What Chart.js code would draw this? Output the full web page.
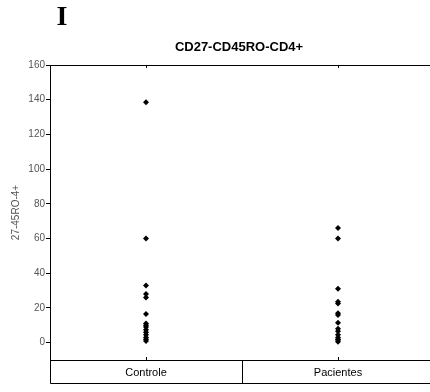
<!DOCTYPE html>
<html>
<head>
<meta charset="utf-8">
<script src="https://cdn.jsdelivr.net/npm/chart.js@4"></script>
<style>
html,body{margin:0;padding:0;background:#fff;overflow:hidden;width:430px;height:392px;}
canvas{display:block;}
</style>
</head>
<body>
<canvas id="c" width="440" height="392"></canvas>
<script>
const categories = ['Controle', 'Pacientes'];
const controleValues = [138.5, 60, 33, 28, 26, 16.5, 11, 10, 9, 7.5, 6, 4.5, 3, 2, 1];
const pacientesValues = [66, 60, 31, 23.5, 22.5, 17, 16, 11.5, 8, 6.5, 4.5, 3, 2, 1.5, 0.5];
const yTicks = [0, 20, 40, 60, 80, 100, 120, 140, 160];
const chartTitle = 'CD27-CD45RO-CD4+';
const panelLetter = 'I';
const yAxisLabel = '27-45RO-4+';

const boxPlugin = {
  id: 'boxPlugin',
  afterDraw(chart) {
    const ctx = chart.ctx;
    const a = chart.chartArea;
    const xs = chart.scales.x;
    ctx.save();
    ctx.strokeStyle = '#000';
    ctx.lineWidth = 1;
    // top border
    ctx.beginPath();
    ctx.moveTo(a.left, a.top + 0.5);
    ctx.lineTo(a.right, a.top + 0.5);
    ctx.stroke();
    // category ticks inside
    categories.forEach((c, i) => {
      const px = Math.round(xs.getPixelForValue(i)) + 0.5;
      ctx.beginPath();
      ctx.moveTo(px, a.top);
      ctx.lineTo(px, a.top + 3);
      ctx.moveTo(px, a.bottom);
      ctx.lineTo(px, a.bottom - 3);
      ctx.stroke();
    });
    // label box
    const boxBottom = a.bottom + 23;
    ctx.beginPath();
    ctx.moveTo(a.left + 0.5, a.bottom);
    ctx.lineTo(a.left + 0.5, boxBottom + 0.5);
    ctx.lineTo(a.right, boxBottom + 0.5);
    ctx.stroke();
    for (let i = 0; i < categories.length - 1; i++) {
      const mid = Math.round((xs.getPixelForValue(i) + xs.getPixelForValue(i + 1)) / 2) + 0.5;
      ctx.beginPath();
      ctx.moveTo(mid, a.bottom);
      ctx.lineTo(mid, boxBottom);
      ctx.stroke();
    }
    // chart title centred over plot area
    ctx.fillStyle = '#000';
    ctx.textAlign = 'center';
    ctx.textBaseline = 'middle';
    ctx.font = 'bold 13px "Liberation Sans", Arial, sans-serif';
    ctx.fillText(chartTitle, (a.left + a.right) / 2 - 3, 47);
    // panel letter
    ctx.font = 'bold 28px "Liberation Serif", "Times New Roman", serif';
    ctx.textBaseline = 'alphabetic';
    ctx.fillText(panelLetter, 62, 25);
    ctx.restore();
  }
};

new Chart(document.getElementById('c'), {
  type: 'line',
  data: {
    labels: categories,
    datasets: [
      {
        label: categories[0],
        data: controleValues.map(v => ({x: categories[0], y: v})),
        showLine: false,
        pointStyle: 'rectRot',
        pointRadius: 3,
        pointBackgroundColor: '#000',
        pointBorderColor: '#000',
        pointBorderWidth: 0
      },
      {
        label: categories[1],
        data: pacientesValues.map(v => ({x: categories[1], y: v})),
        showLine: false,
        pointStyle: 'rectRot',
        pointRadius: 3,
        pointBackgroundColor: '#000',
        pointBorderColor: '#000',
        pointBorderWidth: 0
      }
    ]
  },
  options: {
    responsive: false,
    animation: false,
    layout: { padding: { left: 0, right: 6, top: 65, bottom: 0 } },
    plugins: {
      legend: { display: false },
      tooltip: { enabled: false },
      title: { display: false }
    },
    scales: {
      x: {
        type: 'category',
        offset: true,
        grid: { display: false, drawTicks: false },
        border: { display: true, color: '#000', width: 1 },
        ticks: {
          color: '#000',
          padding: 6,
          font: { family: '"Liberation Sans", Arial, sans-serif', size: 11 }
        },
        afterFit(s) { s.height = 32; }
      },
      y: {
        min: -10,
        max: 160,
        afterBuildTicks(s) { s.ticks = yTicks.map(v => ({ value: v })); },
        grid: { display: true, drawOnChartArea: false, drawTicks: true, tickLength: 4, color: '#000' },
        border: { display: true, color: '#000', width: 1 },
        ticks: {
          color: '#555',
          padding: 1,
          font: { family: '"Liberation Sans", Arial, sans-serif', size: 10 }
        },
        title: {
          display: true,
          text: yAxisLabel,
          color: '#555',
          font: { family: '"Liberation Sans", Arial, sans-serif', size: 10 },
          padding: { top: 10, bottom: 0 }
        },
        afterFit(s) { s.width = 50; }
      }
    }
  },
  plugins: [boxPlugin]
});
</script>
</body>
</html>
